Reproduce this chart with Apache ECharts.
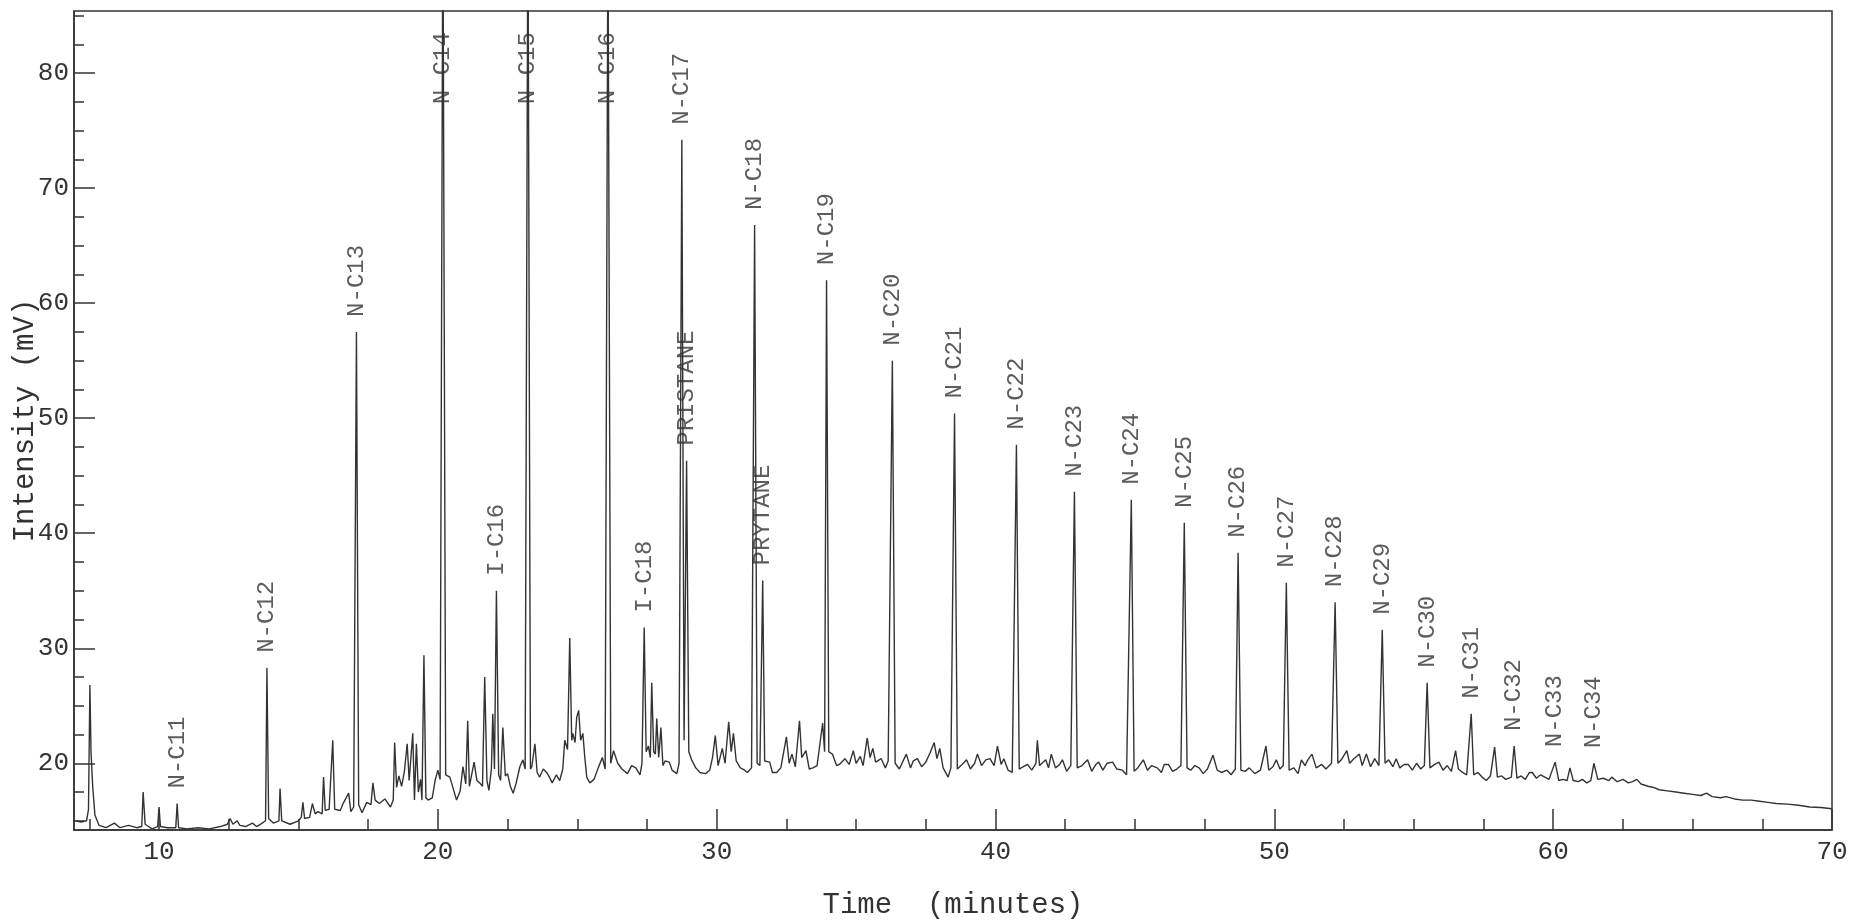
<!DOCTYPE html>
<html>
<head>
<meta charset="utf-8">
<script src="https://cdn.jsdelivr.net/npm/echarts@6/dist/echarts.min.js"></script>
<style>
html,body{margin:0;padding:0;background:#fff;}
#chart{width:1849px;height:920px;}
</style>
</head>
<body>
<div id="chart"></div>
<script>
// Chromatogram trace: [time (min), intensity (mV)]
const trace = [
[7.0,15.0],[7.2,14.9],[7.4,15.0],[7.47,16],[7.52,26.8],[7.56,21],[7.62,18],[7.7,15.5],[7.85,14.6],
[8.1,14.4],[8.4,14.8],[8.6,14.4],[8.9,14.6],[9.2,14.4],[9.38,14.5],[9.43,17.5],[9.5,14.7],[9.75,14.3],
[9.95,14.5],[10.0,16.2],[10.05,14.5],[10.3,14.4],[10.6,14.4],[10.65,16.5],[10.7,14.4],[11.0,14.3],
[11.4,14.4],[11.8,14.3],[12.2,14.5],[12.45,14.7],[12.55,15.2],[12.65,14.7],[12.8,15.0],[12.9,14.6],
[13.1,14.5],[13.35,14.8],[13.5,14.5],[13.7,14.8],[13.82,15],[13.87,28.3],[13.93,15.2],[14.1,14.8],
[14.3,15],[14.34,17.8],[14.4,15],[14.7,14.7],[15.0,15.0],[15.1,15.3],[15.16,16.6],[15.22,15.2],
[15.4,15.3],[15.5,16.5],[15.6,15.6],[15.7,15.8],[15.85,15.6],[15.9,18.8],[15.96,15.9],[16.1,16],
[16.23,22.0],[16.3,16],[16.5,15.9],[16.6,16.5],[16.8,17.4],[16.88,15.8],[16.98,16.2],[17.08,57.5],
[17.16,16.4],[17.28,15.7],[17.45,16.6],[17.6,16.4],[17.67,18.3],[17.75,16.8],[17.9,16.5],[18.1,16.9],
[18.3,16.2],[18.4,16.8],[18.45,21.8],[18.52,17.9],[18.6,18.9],[18.7,18.0],[18.8,19.3],[18.9,21.7],
[18.97,18.5],[19.1,22.6],[19.16,16.8],[19.23,21.7],[19.3,17.5],[19.38,18.6],[19.43,16.8],[19.5,29.4],
[19.57,17.0],[19.65,16.8],[19.8,17.0],[19.9,18.5],[20.0,19.4],[20.08,18.6],[20.18,95],[20.28,19.0],
[20.43,18.8],[20.55,17.8],[20.67,16.8],[20.8,17.6],[20.9,19.7],[21.0,18.2],[21.07,23.7],[21.13,18.0],
[21.2,17.9],[21.3,20.1],[21.4,18.5],[21.5,18.3],[21.6,18.0],[21.68,27.5],[21.76,18.5],[21.83,17.65],
[21.92,19.5],[21.97,24.3],[22.03,19.5],[22.1,35.0],[22.18,19.0],[22.25,18.5],[22.33,23.1],[22.42,18.9],
[22.5,19.1],[22.6,18.0],[22.7,17.4],[22.8,18.2],[22.94,19.7],[23.05,20.3],[23.13,19.5],[23.23,96],
[23.32,19.5],[23.37,19.7],[23.48,21.7],[23.56,19.2],[23.65,18.8],[23.78,19.5],[23.9,19.2],[24.0,18.8],
[24.1,18.3],[24.25,19.0],[24.37,18.5],[24.48,19.5],[24.55,22.0],[24.65,21.2],[24.73,30.9],[24.8,22.0],
[24.84,22.6],[24.92,21.8],[24.98,24.0],[25.05,24.6],[25.12,22.0],[25.2,22.6],[25.27,20.5],[25.34,18.8],
[25.45,18.3],[25.6,18.6],[25.75,19.6],[25.9,20.5],[26.0,19.5],[26.1,94],[26.2,20.0],[26.3,21.1],
[26.45,20.0],[26.6,19.5],[26.8,19.1],[26.95,19.8],[27.1,19.6],[27.25,19.0],[27.32,20],[27.4,31.8],
[27.47,21],[27.55,21.5],[27.62,20.5],[27.67,27.0],[27.74,21],[27.8,20.8],[27.85,23.9],[27.92,20.5],
[28.0,23.1],[28.07,19.8],[28.15,20.2],[28.3,20.1],[28.4,19.4],[28.57,19.1],[28.65,20],[28.75,74.2],
[28.83,22],[28.92,46.3],[29.0,21],[29.1,20.3],[29.25,19.6],[29.4,19.2],[29.6,19.1],[29.75,19.4],
[29.85,20.5],[29.95,22.4],[30.05,19.8],[30.2,21.3],[30.3,20.0],[30.43,23.6],[30.52,21.0],[30.6,22.6],
[30.7,20.2],[30.85,19.6],[31.0,19.4],[31.1,19.2],[31.25,19.6],[31.36,66.8],[31.45,20.0],[31.55,19.8],
[31.65,35.9],[31.72,20.2],[31.9,20.1],[32.0,19.2],[32.15,19.2],[32.3,19.6],[32.5,22.3],[32.6,20.0],
[32.7,20.8],[32.82,19.7],[32.97,23.7],[33.05,20.5],[33.2,21.1],[33.32,19.5],[33.45,19.6],[33.6,19.8],
[33.8,23.5],[33.87,21],[33.94,62.0],[34.02,21],[34.15,20.8],[34.3,19.8],[34.4,19.9],[34.6,20.4],
[34.75,19.9],[34.9,21.1],[35.0,20],[35.15,20.6],[35.25,19.8],[35.4,22.2],[35.5,20.5],[35.6,21.3],
[35.7,20.1],[35.9,20.4],[36.05,19.6],[36.15,20.2],[36.3,55.0],[36.4,20.0],[36.55,19.5],[36.8,20.8],
[36.95,19.6],[37.05,20.2],[37.2,20.4],[37.35,19.7],[37.5,20.1],[37.65,20.9],[37.8,21.8],[37.9,20.4],
[38.0,21.3],[38.12,19.6],[38.3,18.8],[38.4,19.6],[38.53,50.4],[38.63,19.5],[38.8,19.9],[38.96,20.3],
[39.1,19.5],[39.25,20.0],[39.35,20.8],[39.5,19.8],[39.65,20.3],[39.8,20.4],[39.95,19.8],[40.07,21.5],
[40.2,19.9],[40.3,20.4],[40.45,19.4],[40.6,19.2],[40.75,47.7],[40.85,19.5],[41.0,19.7],[41.15,19.9],
[41.3,19.4],[41.45,20.0],[41.5,22.0],[41.58,19.8],[41.8,20.3],[41.9,19.6],[42.0,20.8],[42.15,19.6],
[42.3,19.9],[42.4,20.3],[42.55,19.3],[42.7,19.8],[42.83,43.6],[42.93,19.6],[43.1,19.8],[43.3,20.3],
[43.45,19.3],[43.6,19.9],[43.7,20.1],[43.85,19.4],[44.0,20.0],[44.2,20.1],[44.35,19.5],[44.55,19.4],
[44.7,19.0],[44.87,42.9],[44.97,19.3],[45.1,19.6],[45.3,20.3],[45.45,19.4],[45.6,19.8],[45.8,19.6],
[45.95,19.2],[46.05,19.9],[46.2,19.9],[46.35,19.3],[46.5,19.5],[46.65,19.8],[46.77,40.9],[46.87,19.6],
[47.0,19.4],[47.15,19.8],[47.3,19.6],[47.45,19.1],[47.6,19.5],[47.8,20.7],[47.95,19.4],[48.1,19.2],
[48.3,19.4],[48.45,19.0],[48.6,19.5],[48.7,38.3],[48.8,19.4],[48.95,19.3],[49.1,19.6],[49.3,19.1],
[49.5,19.4],[49.7,21.5],[49.8,19.4],[49.95,19.7],[50.07,20.3],[50.2,19.5],[50.32,19.8],[50.43,35.7],
[50.53,19.4],[50.7,19.6],[50.85,19.1],[50.97,20.3],[51.1,19.8],[51.2,20.3],[51.35,20.8],[51.5,19.6],
[51.7,19.9],[51.85,19.5],[52.05,20.0],[52.18,34.0],[52.28,20],[52.4,20.3],[52.6,21.1],[52.7,20.0],
[52.85,20.4],[53.05,20.8],[53.15,19.8],[53.3,20.8],[53.45,19.7],[53.6,20.4],[53.75,19.8],[53.87,31.6],
[53.97,20.0],[54.1,20.3],[54.25,19.7],[54.37,20.4],[54.5,19.6],[54.65,19.9],[54.8,19.9],[54.95,19.4],
[55.1,20.0],[55.25,19.5],[55.38,19.8],[55.48,27.0],[55.58,19.6],[55.75,19.9],[55.9,20.1],[56.05,19.4],
[56.2,19.8],[56.35,19.3],[56.5,21.1],[56.6,19.5],[56.75,19.2],[56.9,19.0],[57.06,24.3],[57.15,19.0],
[57.3,19.2],[57.45,18.8],[57.6,18.5],[57.75,18.9],[57.9,21.4],[58.0,18.8],[58.15,18.9],[58.3,18.6],
[58.5,18.8],[58.6,21.5],[58.7,18.7],[58.85,18.9],[59.0,18.6],[59.15,19.2],[59.25,19.2],[59.4,18.7],
[59.55,19.0],[59.7,18.8],[59.85,18.6],[60.07,20.1],[60.2,18.5],[60.35,18.6],[60.5,18.5],[60.6,19.6],
[60.72,18.5],[60.9,18.4],[61.05,18.6],[61.2,18.3],[61.35,18.5],[61.46,20.0],[61.6,18.6],[61.8,18.7],
[62.0,18.5],[62.1,18.8],[62.3,18.4],[62.5,18.6],[62.7,18.3],[62.85,18.4],[63.0,18.6],[63.15,18.2],
[63.4,18.0],[63.6,17.9],[63.8,17.7],[64.1,17.6],[64.4,17.5],[64.7,17.4],[65.0,17.3],[65.3,17.2],
[65.5,17.4],[65.7,17.1],[66.0,17.0],[66.2,17.1],[66.5,16.9],[66.8,16.8],[67.1,16.8],[67.4,16.7],
[67.7,16.6],[68.0,16.5],[68.4,16.45],[68.8,16.35],[69.2,16.2],[69.6,16.15],[70.0,16.05]
];

// Peak labels
const peakNames = ['N-C11','N-C12','N-C13','N-C14','I-C16','N-C15','N-C16','I-C18','N-C17','PRISTANE',
  'N-C18','PRYTANE','N-C19','N-C20','N-C21','N-C22','N-C23','N-C24','N-C25','N-C26','N-C27','N-C28',
  'N-C29','N-C30','N-C31','N-C32','N-C33','N-C34'];
const peakTimes = [10.65,13.87,17.08,20.18,22.1,23.23,26.1,27.4,28.75,28.92,31.36,31.65,33.94,36.3,
  38.53,40.75,42.83,44.87,46.77,48.7,50.43,52.18,53.87,55.48,57.06,58.6,60.07,61.46];
const peakHeights = [16.5,28.3,57.5,95,35.0,96,94,31.8,74.2,46.3,66.8,35.9,62.0,55.0,50.4,47.7,43.6,
  42.9,40.9,38.3,35.7,34.0,31.6,27.0,24.3,21.5,20.1,20.0];

// Axis ticks
const xMajorTicks = [10,20,30,40,50,60,70];
const xMinorTicks = [7.5,12.5,15,17.5,22.5,25,27.5,32.5,35,37.5,42.5,45,47.5,52.5,55,57.5,62.5,65,67.5];
const yMajorTicks = [20,30,40,50,60,70,80];
const yMinorTicks = [15,17.5,22.5,25,27.5,32.5,35,37.5,42.5,45,47.5,52.5,55,57.5,62.5,65,67.5,72.5,75,77.5,82.5,85];

const X_MIN = 6.95, X_MAX = 70, Y_MIN = 14.2, Y_MAX = 85.4;
const LABEL_CAP = 76; // labels of off-scale peaks sit at the top of the plot

const INK = '#333';
const FONT = '"Liberation Mono", "DejaVu Sans Mono", monospace';

const labelData = peakNames.map((n, i) => ({
  value: [peakTimes[i], Math.min(peakHeights[i], LABEL_CAP)],
  name: n
}));

const chart = echarts.init(document.getElementById('chart'), null, {renderer: 'canvas'});
chart.setOption({
  animation: false,
  backgroundColor: '#fff',
  grid: {left: 74, right: 17, top: 11, bottom: 90, show: true, borderColor: INK, borderWidth: 1.5,
         containLabel: false, outerBoundsMode: 'none'},
  xAxis: [{
    type: 'value', min: X_MIN, max: X_MAX,
    name: 'Time  (minutes)', nameLocation: 'middle', nameGap: 61,
    nameTextStyle: {fontFamily: FONT, fontSize: 29, color: INK},
    axisLine: {show: true, lineStyle: {color: INK, width: 1.5}},
    axisTick: {show: true, inside: true, length: 21, lineStyle: {color: INK, width: 1.5}, customValues: xMajorTicks},
    axisLabel: {show: true, margin: 9, fontFamily: FONT, fontSize: 26, color: INK, customValues: xMajorTicks},
    splitLine: {show: false}
  }, {
    type: 'value', min: X_MIN, max: X_MAX, position: 'bottom',
    axisLine: {show: false},
    axisTick: {show: true, inside: true, length: 11, lineStyle: {color: INK, width: 1.5}, customValues: xMinorTicks},
    axisLabel: {show: false},
    splitLine: {show: false}
  }],
  yAxis: [{
    type: 'value', min: Y_MIN, max: Y_MAX,
    name: 'Intensity (mV)', nameLocation: 'middle', nameGap: 34, nameRotate: 90, nameMoveOverlap: false,
    nameTextStyle: {fontFamily: FONT, fontSize: 29, color: INK},
    axisLine: {show: true, lineStyle: {color: INK, width: 1.5}},
    axisTick: {show: true, inside: true, length: 21, lineStyle: {color: INK, width: 1.5}, customValues: yMajorTicks},
    axisLabel: {show: true, margin: 5, fontFamily: FONT, fontSize: 26, color: INK, customValues: yMajorTicks},
    splitLine: {show: false}
  }, {
    type: 'value', min: Y_MIN, max: Y_MAX, position: 'left',
    axisLine: {show: false},
    axisTick: {show: true, inside: true, length: 10, lineStyle: {color: INK, width: 1.5}, customValues: yMinorTicks},
    axisLabel: {show: false},
    splitLine: {show: false}
  }],
  series: [{
    type: 'line',
    data: trace,
    xAxisIndex: 0, yAxisIndex: 0,
    showSymbol: false, symbol: 'none',
    clip: true,
    lineStyle: {color: INK, width: 1.4},
    silent: true
  }, {
    type: 'scatter',
    data: labelData,
    xAxisIndex: 0, yAxisIndex: 0,
    symbolSize: 0,
    itemStyle: {color: 'transparent'},
    silent: true,
    label: {
      show: true,
      formatter: p => p.name,
      position: 'top',
      distance: 15,
      rotate: 90,
      align: 'left',
      verticalAlign: 'middle',
      fontFamily: FONT,
      fontSize: 24,
      color: INK
    }
  }]
});
</script>
</body>
</html>
